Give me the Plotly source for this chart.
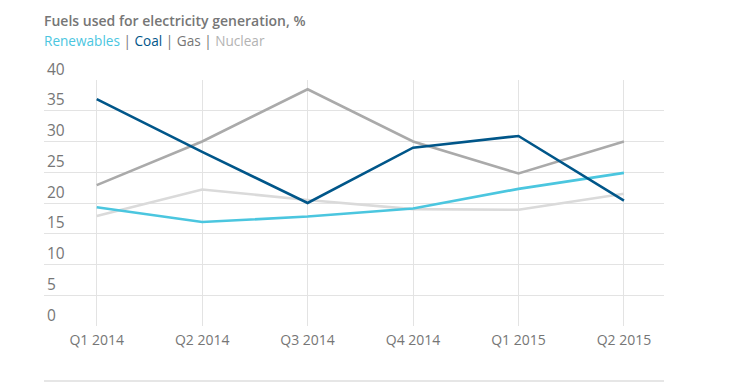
import plotly.graph_objects as go

quarters = ["Q1 2014", "Q2 2014", "Q3 2014", "Q4 2014", "Q1 2015", "Q2 2015"]
renewables = [19.3, 16.9, 17.8, 19.1, 22.3, 24.9]
coal = [36.9, 28.3, 20.0, 29.0, 30.9, 20.4]
gas = [22.9, 30.0, 38.5, 30.0, 24.8, 30.0]
nuclear = [17.9, 22.2, 20.5, 19.0, 18.9, 21.5]

colors = {
    "Renewables": "#4bc6df",
    "Coal": "#005689",
    "Gas": "#aaaaaa",
    "Nuclear": "#dadada",
}

x = list(range(len(quarters)))
fig = go.Figure()
# draw order: nuclear, gas, renewables, coal
for name, vals in [("Nuclear", nuclear), ("Gas", gas), ("Renewables", renewables), ("Coal", coal)]:
    fig.add_trace(go.Scatter(x=x, y=vals, mode="lines", name=name,
                             line=dict(color=colors[name], width=2.6),
                             hoverinfo="x+y+name"))

grey = "#767676"
# page body has an 8px default margin, so the figure is 8px smaller and margins shifted
fig.update_layout(
    width=726, height=381,
    margin=dict(l=36, r=70, t=72, b=63),
    paper_bgcolor="white", plot_bgcolor="white",
    showlegend=False,
    font=dict(family="Open Sans", color=grey),
    xaxis=dict(
        tickmode="array", tickvals=x, ticktext=quarters,
        range=[-0.5, 5.38], showgrid=True, gridcolor="#e3e3e3", gridwidth=1,
        zeroline=False, showline=False, ticks="", automargin=False,
        ticklabelstandoff=4,
        tickfont=dict(size=14, color=grey),
    ),
    yaxis=dict(
        range=[0, 40], tickvals=[0, 5, 10, 15, 20, 25, 30, 35, 40],
        showgrid=True, gridcolor="#e3e3e3", gridwidth=1,
        zeroline=False, showline=False, ticks="", automargin=False,
        ticklabelposition="inside top", ticklabeloverflow="allow",
        tickfont=dict(size=15.5, color=grey),
    ),
    shapes=[dict(type="line", xref="paper", yref="paper", x0=0, x1=1,
                 y0=-55/246, y1=-55/246, line=dict(color="#e6e6e6", width=2))],
    annotations=[
        dict(text="Fuels used for electricity generation, %", xref="paper", yref="paper",
             x=-0.003, y=(326 - 20) / 246, xanchor="left", yanchor="middle", showarrow=False,
             font=dict(size=14, color=grey, family="Open Sans", weight=600)),
        dict(text=(f"<span style='color:{colors['Renewables']}'>Renewables</span>"
                   f"<span style='color:{grey}'> | </span>"
                   f"<span style='color:{colors['Coal']}'>Coal</span>"
                   f"<span style='color:{grey}'> | </span>"
                   f"<span style='color:{grey}'>Gas</span>"
                   f"<span style='color:{grey}'> | </span>"
                   f"<span style='color:#b3b3b3'>Nuclear</span>"),
             xref="paper", yref="paper",
             x=-0.003, y=(326 - 40) / 246, xanchor="left", yanchor="middle", showarrow=False,
             font=dict(size=13.6, family="Open Sans")),
    ],
)

fig.write_html("out.html")
